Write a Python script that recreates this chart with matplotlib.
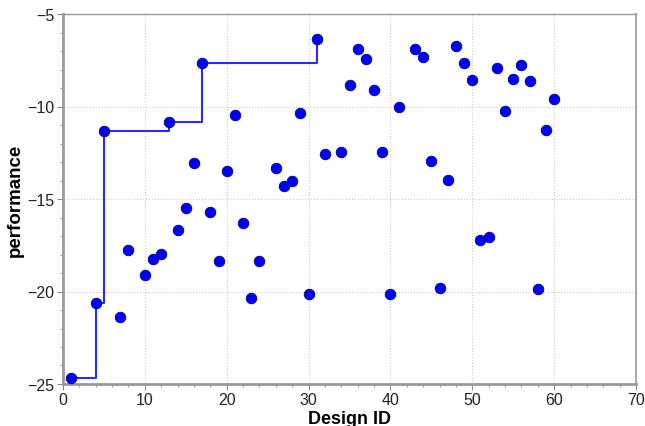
import matplotlib
matplotlib.use("Agg")
import matplotlib.pyplot as plt
from matplotlib.ticker import MultipleLocator

design_id = [1, 4, 5, 7, 8, 10, 11, 12, 13, 14, 15, 16, 17, 18, 19, 20, 21, 22, 23, 24,
             26, 27, 28, 29, 30, 31, 32, 34, 35, 36, 37, 38, 39, 40, 41, 43, 44, 45, 46, 47,
             48, 49, 50, 51, 52, 53, 54, 55, 56, 57, 58, 59, 60]
performance = [-24.7, -20.6, -11.3, -21.4, -17.75, -19.1, -18.25, -17.95, -10.85, -16.7,
               -15.5, -13.05, -7.65, -15.7, -18.35, -13.5, -10.45, -16.3, -20.35, -18.35,
               -13.3, -14.3, -14.05, -10.35, -20.15, -6.35, -12.55, -12.45, -8.85, -6.9,
               -7.45, -9.1, -12.45, -20.15, -10.05, -6.9, -7.35, -12.95, -19.8, -13.95,
               -6.75, -7.65, -8.55, -17.2, -17.05, -7.9, -10.25, -8.5, -7.75, -8.6,
               -19.85, -11.25, -9.6]

best_id = [1, 4, 5, 13, 17, 31]
best_perf = [-24.7, -20.6, -11.3, -10.85, -7.65, -6.35]

plt.rcParams['font.family'] = ['Liberation Sans', 'DejaVu Sans']

fig = plt.figure(figsize=(6.45, 4.27), dpi=100)
ax = fig.add_axes([63/645, 1 - 385/427, 573/645, 370/427])

ax.step(best_id, best_perf, where='post', color='#2a2aff', lw=1.5, zorder=2)
ax.scatter(design_id, performance, s=58, color='#0000ff', edgecolors='#00008a',
           linewidths=0.6, zorder=3)

ax.set_xlim(0, 70)
ax.set_ylim(-25, -5)
ax.xaxis.set_major_locator(MultipleLocator(10))
ax.xaxis.set_minor_locator(MultipleLocator(2))
ax.yaxis.set_major_locator(MultipleLocator(5))
ax.yaxis.set_minor_locator(MultipleLocator(1))

ax.grid(True, which='major', color='#cccccc', linestyle=':', linewidth=0.8)
ax.set_axisbelow(True)

ax.spines['top'].set_color('#999999')
ax.spines['top'].set_linewidth(1.0)
ax.spines['right'].set_color('#aaaaaa')
ax.spines['right'].set_linewidth(1.5)
for side in ['left', 'bottom']:
    ax.spines[side].set_color('#999999')
    ax.spines[side].set_linewidth(2.0)

ax.tick_params(axis='both', which='major', labelsize=11.5, length=4, color='#888888',
               labelcolor='#222222', pad=2)
ax.tick_params(axis='both', which='minor', length=2, color='#888888')

ax.set_xlabel('Design ID', fontsize=13, fontweight='bold', labelpad=2)
ax.set_ylabel('performance', fontsize=13.5, fontweight='bold')
ax.yaxis.set_label_coords(-0.068, 0.5)

fig.savefig('out.png', dpi=100)
